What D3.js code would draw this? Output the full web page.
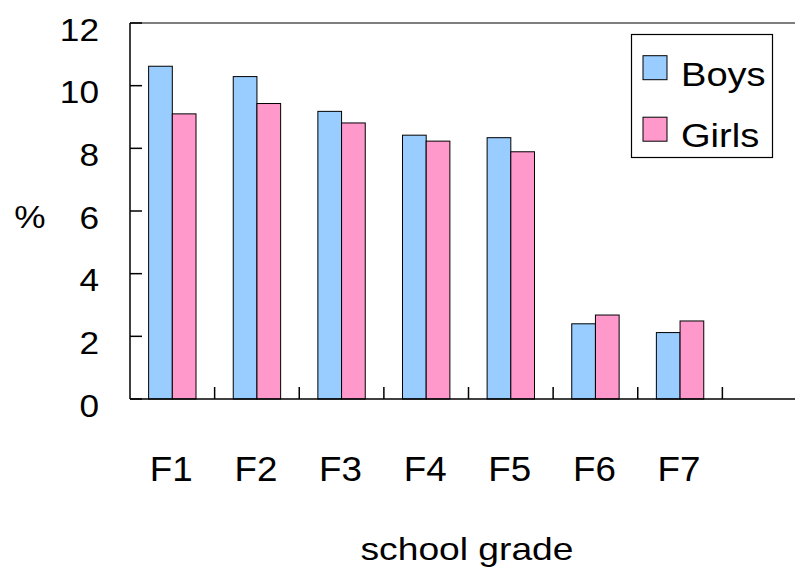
<!DOCTYPE html>
<html><head><meta charset="utf-8">
<script src="https://cdn.jsdelivr.net/npm/d3@7"></script>
<style>body{margin:0;background:#fff;overflow:hidden}svg{display:block}text{font-family:Arial,"Liberation Sans",sans-serif;fill:#000}</style>
</head><body>
<svg id="c" width="795" height="569"></svg>
<script>
const categories = ["F1","F2","F3","F4","F5","F6","F7",""];
const seriesNames = ["Boys","Girls"];
const boys = [10.62, 10.29, 9.18, 8.42, 8.34, 2.40, 2.12];
const girls = [9.10, 9.43, 8.81, 8.23, 7.89, 2.68, 2.49];
const yTicks = [0,2,4,6,8,10,12];
const colors = ["#99CCFF","#FF99CC"];

const svg = d3.select("#c");
const L=130, R=807, T=23, B=399;
const x0 = d3.scaleBand().domain(categories).range([L,R]).padding(0);
const bw = x0.bandwidth();
const x1 = d3.scaleBand().domain(seriesNames).range([bw*0.22, bw*0.78]).padding(0);
const y = d3.scaleLinear().domain([0,12]).range([B,T]);

function txt(g, x, yy, s, size, anchor, sx){
  return g.append("text").attr("transform",`translate(${x},${yy}) scale(${sx},1)`)
    .attr("text-anchor",anchor).style("font-size",size+"px").text(s);
}

// bars
const data = categories.slice(0,7).map((c,i)=>({c, vals:[boys[i], girls[i]]}));
const gb = svg.append("g");
data.forEach(d=>{
  d.vals.forEach((v,j)=>{
    gb.append("rect").attr("x", x0(d.c)+x1(seriesNames[j])).attr("y", y(v))
      .attr("width", x1.bandwidth()).attr("height", y(0)-y(v))
      .attr("fill", colors[j]).attr("stroke","#000").attr("stroke-width",1);
  });
});

// axes
const ax = svg.append("g").attr("stroke","#000").attr("stroke-width",1.5).attr("fill","none");
ax.append("line").attr("x1",L).attr("x2",L).attr("y1",T).attr("y2",B);
ax.append("line").attr("x1",L).attr("x2",R).attr("y1",B).attr("y2",B);
ax.append("line").attr("x1",L).attr("x2",R).attr("y1",T).attr("y2",T).attr("stroke-width",1.2);
yTicks.forEach(t=>{ ax.append("line").attr("x1",L).attr("x2",L+12).attr("y1",y(t)).attr("y2",y(t)); });
categories.forEach((c,i)=>{ if(i>0){ const xx=x0(c); ax.append("line").attr("x1",xx).attr("x2",xx).attr("y1",B).attr("y2",B-12);} });

// tick labels
const gt = svg.append("g");
yTicks.forEach(t=>txt(gt, 99, y(t)+17.5, String(t), 32, "end", 1.1));
categories.forEach(c=>{ if(c) txt(gt, x0(c)+bw/2 - 1, 481, c, 35, "middle", 1.05); });
txt(gt, 30, 228, "%", 32, "middle", 1.1);
txt(gt, 467, 560, "school grade", 31, "middle", 1.2);

// legend
const lg = svg.append("g");
lg.append("rect").attr("x",631.5).attr("y",34.5).attr("width",141).attr("height",123)
  .attr("fill","#fff").attr("stroke","#000").attr("stroke-width",1.2);
seriesNames.forEach((s,j)=>{
  const yy = 55.7 + j*61.5;
  lg.append("rect").attr("x",643).attr("y",yy).attr("width",24).attr("height",24)
    .attr("fill",colors[j]).attr("stroke","#000").attr("stroke-width",1);
  txt(lg, 681, yy+30, s, 34, "start", 1.12);
});
</script>
</body></html>
